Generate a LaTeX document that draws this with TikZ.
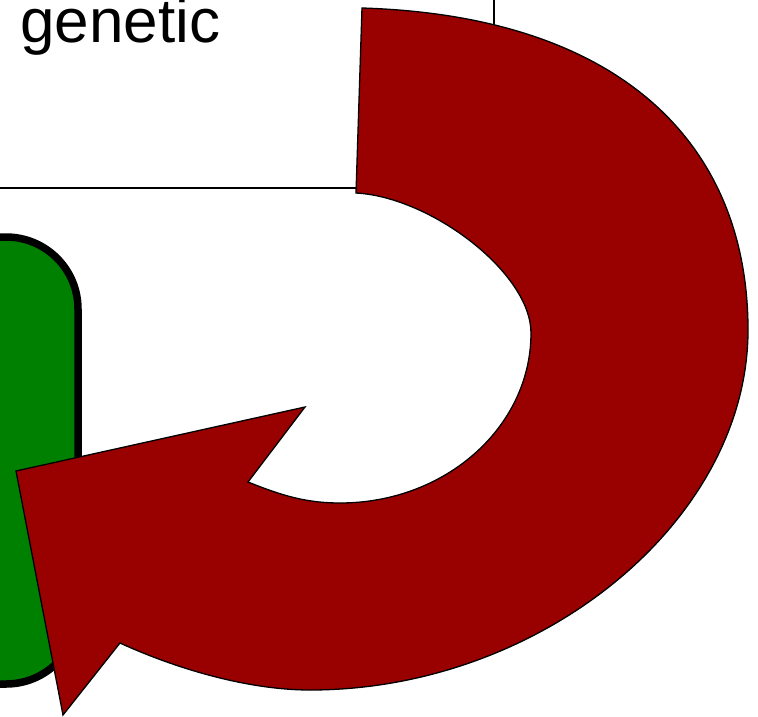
\documentclass[tikz,border=0pt]{standalone}
\usepackage{fontspec}
\setmainfont{Liberation Sans}
\definecolor{leafgreen}{RGB}{0,128,0}
\definecolor{arrowred}{RGB}{153,0,0}
\begin{document}
\begin{tikzpicture}[x=1pt,y=-1pt,
  labelbox/.style={draw=black, fill=white, line width=1.5pt},
  greenbox/.style={draw=black, fill=leafgreen, line width=7.5pt, rounded corners=72pt},
  bigarrow/.style={draw=black, fill=arrowred, line width=1.3pt, line join=miter},
  wordstyle/.style={anchor=base west, inner sep=0pt, font=\fontsize{62}{70}\selectfont}]
\useasboundingbox (0,0) rectangle (758,716);
\clip (0,0) rectangle (758,716);

% text box, partly outside the frame
\draw[labelbox] (-100,-100) rectangle (494,188);
\node[wordstyle] (word) at (20,42) {genetic};

% green rounded block on the left
\draw[greenbox] (-200,237) rectangle (78,684);

% key points of the curved arrow
\coordinate (outerstart) at (362,8);
\coordinate (outerright) at (748,330);
\coordinate (outerbottom) at (310,690);
\coordinate (outerend) at (120,643);
\coordinate (headlow) at (63,715);
\coordinate (headtip) at (16,471);
\coordinate (headhigh) at (305,407);
\coordinate (innerend) at (248,482);
\coordinate (innerbottom) at (340,503);
\coordinate (innerright) at (531,333);
\coordinate (innerstart) at (356,193);

% curved red arrow: outer arc, arrow head, inner arc
\draw[bigarrow]
  (outerstart) .. controls (622,16) and (748,145) .. (outerright)
  .. controls (748,520) and (542,690) .. (outerbottom)
  .. controls (250,690) and (179,670) .. (outerend)
  -- (headlow) -- (headtip) -- (headhigh) -- (innerend)
  .. controls (280.5,495) and (305,503) .. (innerbottom)
  .. controls (445.5,503) and (531,427) .. (innerright)
  .. controls (531,273) and (431,197) .. (innerstart)
  -- cycle;
\end{tikzpicture}
\end{document}
